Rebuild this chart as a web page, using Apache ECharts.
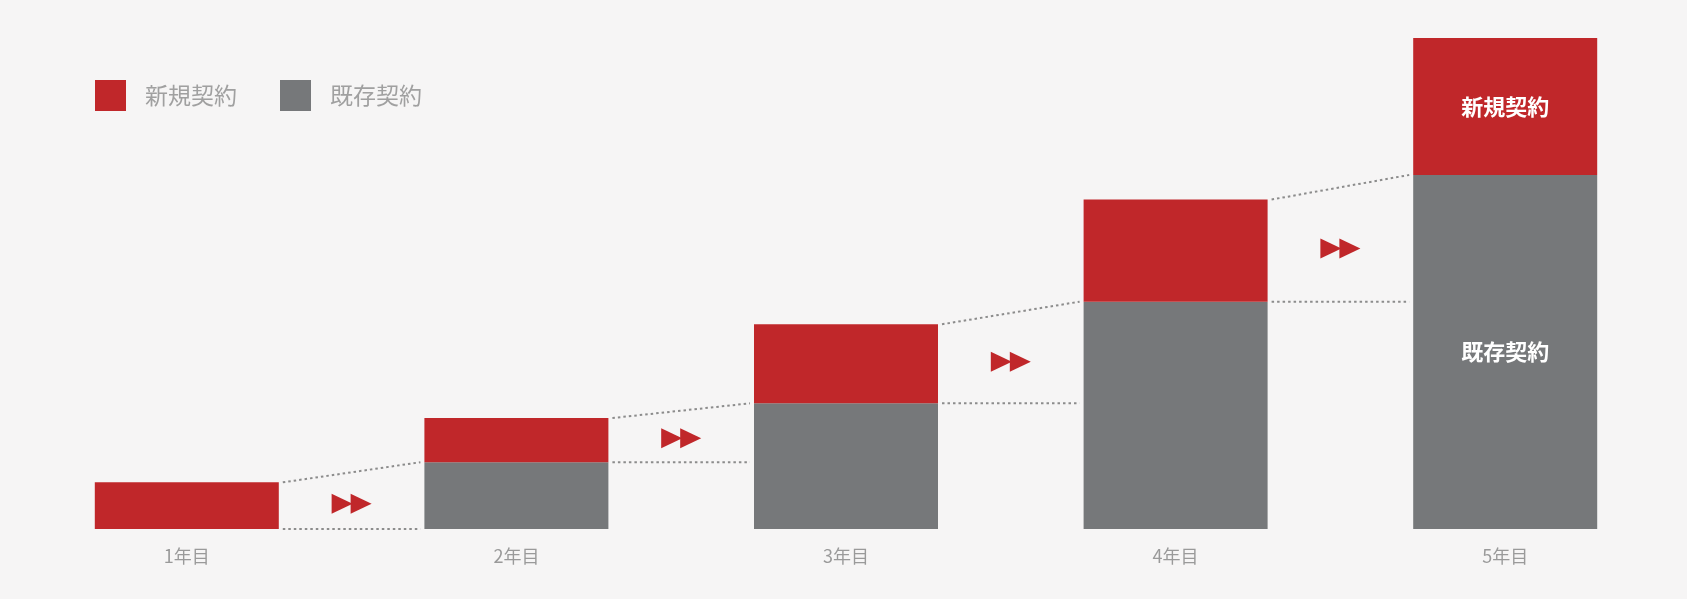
<!DOCTYPE html>
<html>
<head>
<meta charset="utf-8">
<script src="https://cdn.jsdelivr.net/npm/echarts@6/dist/echarts.min.js"></script>
<style>
  html, body { margin: 0; padding: 0; background: #f6f5f5; }
  #chart { width: 1687px; height: 599px; }
</style>
</head>
<body>
<div id="chart"></div>
<script>
// Contract volume per year (share of year-5 total = 100)
const years = ['1年目', '2年目', '3年目', '4年目', '5年目'];
const existingContracts = [0, 13.6, 25.6, 46.3, 72.1];
const newContracts = [9.5, 9.0, 16.1, 20.8, 27.9];
const seriesNames = ['新規契約', '既存契約'];

const RED = '#c0272a';
const GRAY = '#76787a';
const FONT = '"Noto Sans CJK JP", "Noto Sans", sans-serif';
const BAR_W = 184;

const totals = existingContracts.map((v, i) => v + newContracts[i]);
const last = years.length - 1;

function withEndLabel(values) {
  return values.map((v, i) => i === last
    ? { value: v, label: { show: true, position: 'inside', color: '#fff', fontSize: 22, fontWeight: 'bold', fontFamily: FONT } }
    : v);
}

// connectors and arrows between neighbouring bars
const gapIdx = years.slice(0, last).map((_, i) => i);

function renderGap(params, api) {
  const i = api.value(0);
  const half = BAR_W / 2;
  const xr = api.coord([i, 0])[0] + half;
  const xl = api.coord([i + 1, 0])[0] - half;
  const yTotal = api.coord([i, totals[i]])[1];
  const yGray = api.coord([i, existingContracts[i]])[1];
  const yNextGray = api.coord([i + 1, existingContracts[i + 1]])[1];
  const lineStyle = { stroke: '#8c8c8c', lineWidth: 2, lineDash: [2.5, 3], fill: null };
  const cx = (xr + xl) / 2;
  const cy = api.coord([i, existingContracts[i] + newContracts[i] / 2])[1] - 2;
  const tw = 21, th = 20;
  const tri = (x0) => ({
    type: 'polygon',
    shape: { points: [[x0, cy - th / 2], [x0 + tw, cy], [x0, cy + th / 2]] },
    style: { fill: RED }
  });
  return {
    type: 'group',
    children: [
      { type: 'line', shape: { x1: xr + 4, y1: yTotal, x2: xl - 4, y2: yNextGray }, style: lineStyle },
      { type: 'line', shape: { x1: xr + 4, y1: yGray, x2: xl - 4, y2: yGray }, style: lineStyle },
      tri(cx - 20),
      tri(cx - 1)
    ]
  };
}

const chart = echarts.init(document.getElementById('chart'));
chart.setOption({
  backgroundColor: '#f6f5f5',
  animation: false,
  textStyle: { fontFamily: FONT },
  legend: {
    data: seriesNames,
    left: 95,
    top: 80,
    padding: 0,
    itemWidth: 31,
    itemHeight: 31,
    itemGap: 43,
    icon: 'rect',
    textStyle: { color: '#a0a0a0', fontSize: 23, fontFamily: FONT, padding: [0, 0, 0, 14] }
  },
  grid: { left: 22, right: 17, top: 38, bottom: 70 },
  xAxis: {
    type: 'category',
    data: years,
    axisLine: { show: false },
    axisTick: { show: false },
    axisLabel: { color: '#9a9a9a', fontSize: 18, margin: 18, fontFamily: FONT }
  },
  yAxis: {
    type: 'value',
    min: 0,
    max: 100,
    show: false,
    splitLine: { show: false }
  },
  series: [
    {
      name: '既存契約',
      type: 'bar',
      stack: 'total',
      barWidth: BAR_W,
      itemStyle: { color: GRAY },
      label: { formatter: '{a}' },
      data: withEndLabel(existingContracts)
    },
    {
      name: '新規契約',
      type: 'bar',
      stack: 'total',
      barWidth: BAR_W,
      itemStyle: { color: RED },
      label: { formatter: '{a}' },
      data: withEndLabel(newContracts)
    },
    {
      type: 'custom',
      renderItem: renderGap,
      data: gapIdx,
      encode: { x: 0 },
      silent: true,
      z: 1
    }
  ]
});
</script>
</body>
</html>
